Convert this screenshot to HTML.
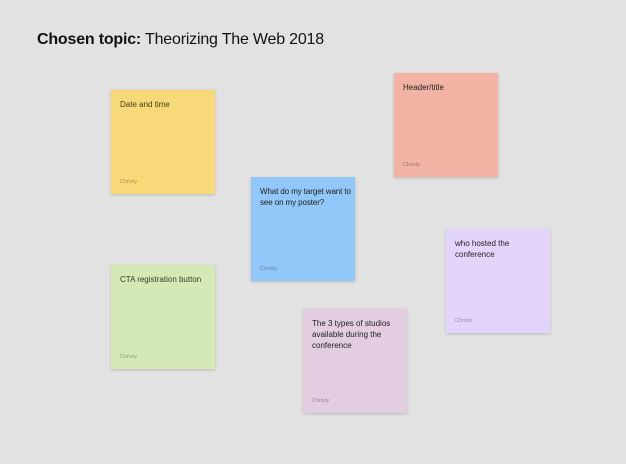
<!DOCTYPE html>
<html><head><style>
body{margin:0;width:626px;height:464px;background:#e2e2e2;font-family:"Liberation Sans",sans-serif;position:relative;overflow:hidden}
h1{position:absolute;left:37px;top:31px;margin:0;font-size:16px;font-weight:normal;color:#111;letter-spacing:-0.2px}
h1 b{font-weight:bold}
.n{position:absolute;width:104px;height:104px;box-shadow:0 1px 3px rgba(0,0,0,.18)}
.t{position:absolute;left:9px;top:9px;font-size:8px;line-height:11px;color:#222;white-space:nowrap}
.a{position:absolute;left:9px;top:89px;font-size:5.5px;color:rgba(0,0,0,.35)}
</style></head><body>
<h1><b>Chosen topic:</b> Theorizing The Web 2018</h1>
<div class="n" style="left:111px;top:90px;background:#f7d97a"><div class="t" style="color:#4a3a12">Date and time</div><div class="a">Christy</div></div>
<div class="n" style="left:394px;top:73px;background:#f2b3a4"><div class="t">Header/title</div><div class="a">Christy</div></div>
<div class="n" style="left:251px;top:177px;background:#91c7f9"><div class="t" style="letter-spacing:-0.1px">What do my target want to<br>see on my poster?</div><div class="a">Christy</div></div>
<div class="n" style="left:446px;top:229px;background:#e2d4fb"><div class="t">who hosted the<br>conference</div><div class="a">Christy</div></div>
<div class="n" style="left:111px;top:265px;background:#d5e9b7"><div class="t" style="color:#3d3a1a">CTA registration button</div><div class="a">Christy</div></div>
<div class="n" style="left:303px;top:309px;background:#e3cde0"><div class="t">The 3 types of studios<br>available during the<br>conference</div><div class="a">Christy</div></div>
</body></html>
